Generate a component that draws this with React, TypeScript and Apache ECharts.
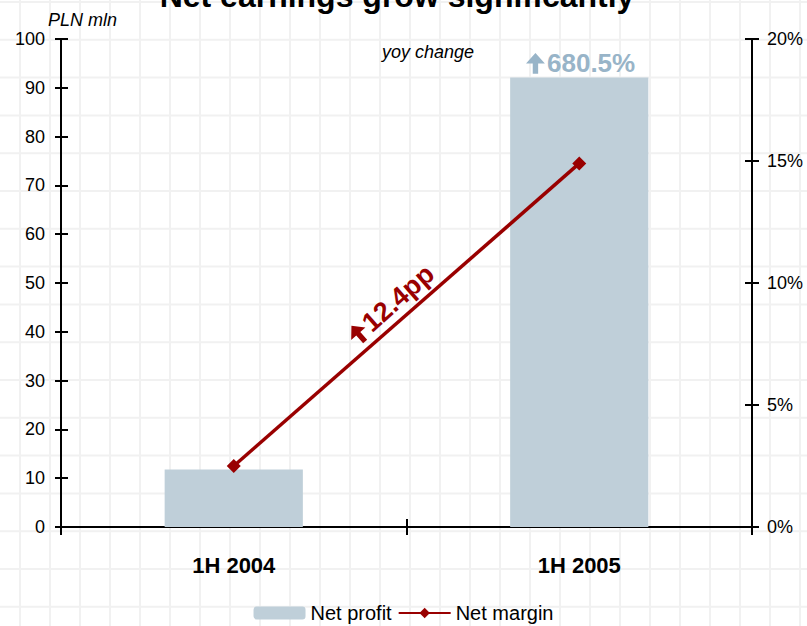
import React, { useEffect, useRef } from "react";
import * as echarts from "echarts";

const categories = ["1H 2004", "1H 2005"];
const netProfit = [11.8, 92.1];
const netMargin = [2.5, 14.9];
const profitGrowthLabel = "680.5%";
const marginChangeLabel = "12.4pp";
const leftMin = 0, leftMax = 100, leftInterval = 10;
const rightMin = 0, rightMax = 20, rightInterval = 5;

const W = 807, H = 626;
const FONT = "Liberation Sans";

echarts.graphic.registerShape(
  "upArrow",
  echarts.graphic.extendPath("M7 0 L14 8 L9 8 L9 16 L5 16 L5 8 L0 8 Z", {})
);

export default function App() {
  const ref = useRef<HTMLDivElement>(null);
  useEffect(() => {
    if (!ref.current) return;
    const chart = echarts.init(ref.current, null, { renderer: "svg" });
    const bg: any[] = [];
    for (let x = 20; x < W; x += 30) {
      bg.push({ type: "line", z: 0, silent: true, shape: { x1: x, y1: 0, x2: x, y2: H }, style: { stroke: "#f1f1f1", lineWidth: 2 } });
    }
    for (let y = 2; y < H; y += 37.8) {
      bg.push({ type: "line", z: 0, silent: true, shape: { x1: 0, y1: y, x2: W, y2: y }, style: { stroke: "#f1f1f1", lineWidth: 2 } });
    }
    const axisLine = { show: true, lineStyle: { color: "#000", width: 2 } };
    const tickStyle = { color: "#000", width: 2 };
    const option: any = {
      animation: false,
      backgroundColor: "#fff",
      textStyle: { fontFamily: FONT },
      grid: { left: 61, right: 55, top: 39, bottom: 99 },
      legend: {
        left: "center",
        top: 598,
        itemWidth: 52,
        itemHeight: 13,
        itemGap: 6,
        textStyle: { fontSize: 20, color: "#000", fontFamily: FONT },
        data: ["Net profit", "Net margin"],
      },
      xAxis: [
        {
          type: "category",
          data: categories,
          position: "bottom",
          axisLine,
          axisTick: { show: true, length: 8, lineStyle: tickStyle },
          axisLabel: { fontWeight: "bold", fontSize: 22, color: "#000", margin: 27, fontFamily: FONT },
          splitLine: { show: false },
        },
        {
          type: "category",
          data: categories,
          position: "bottom",
          offset: 0,
          axisLine: { show: false },
          axisTick: { show: true, inside: true, length: 8, lineStyle: tickStyle },
          axisLabel: { show: false },
          splitLine: { show: false },
        },
      ],
      yAxis: [
        {
          type: "value", min: leftMin, max: leftMax, interval: leftInterval, position: "left",
          axisLine, axisTick: { show: true, length: 6, lineStyle: tickStyle },
          axisLabel: { fontSize: 18, color: "#000", margin: 16, fontFamily: FONT },
          splitLine: { show: false },
        },
        {
          type: "value", min: rightMin, max: rightMax, interval: rightInterval, position: "right",
          axisLine, axisTick: { show: true, length: 7, lineStyle: tickStyle },
          axisLabel: { fontSize: 18, color: "#000", margin: 15, formatter: "{value}%", fontFamily: FONT },
          splitLine: { show: false },
        },
        {
          type: "value", min: leftMin, max: leftMax, interval: leftInterval, position: "left", offset: 0,
          axisLine: { show: false }, axisTick: { show: true, inside: true, length: 7, lineStyle: tickStyle },
          axisLabel: { show: false }, splitLine: { show: false },
        },
        {
          type: "value", min: rightMin, max: rightMax, interval: rightInterval, position: "right", offset: 0,
          axisLine: { show: false }, axisTick: { show: true, inside: true, length: 7, lineStyle: tickStyle },
          axisLabel: { show: false }, splitLine: { show: false },
        },
      ],
      series: [
        {
          name: "Net profit",
          type: "bar",
          xAxisIndex: 0,
          yAxisIndex: 0,
          barWidth: "40%",
          itemStyle: { color: "#bfcfd9" },
          data: netProfit,
          z: 2,
        },
        {
          name: "Net margin",
          type: "line",
          xAxisIndex: 0,
          yAxisIndex: 1,
          symbol: "diamond",
          symbolSize: 14,
          lineStyle: { color: "#990000", width: 3.5 },
          itemStyle: { color: "#990000" },
          data: netMargin,
          z: 3,
        },
      ],
      graphic: [
        ...bg,
        {
          type: "text", z: 100, x: 397, y: -20,
          style: { text: "Net earnings grow significantly", font: `bold 32px ${FONT}`, fill: "#000", textAlign: "center", textVerticalAlign: "top" },
        },
        {
          type: "text", z: 100, x: 48, y: 20,
          style: { text: "PLN mln", font: `italic 18px ${FONT}`, fill: "#000", textAlign: "left", textVerticalAlign: "middle" },
        },
        {
          type: "text", z: 100, x: 428, y: 52,
          style: { text: "yoy change", font: `italic 18px ${FONT}`, fill: "#000", textAlign: "center", textVerticalAlign: "middle" },
        },
        {
          type: "group", z: 100, x: 526, y: 63,
          children: [
            { type: "upArrow", z: 100, x: 0, y: -10, scaleX: 1.35, scaleY: 1.3, style: { fill: "#98b4c8" } },
            {
              type: "text", z: 100, x: 21, y: 0,
              style: { text: profitGrowthLabel, font: `bold 26px ${FONT}`, fill: "#98b4c8", textAlign: "left", textVerticalAlign: "middle" },
            },
          ],
        },
        {
          type: "group", z: 100, x: 396, y: 300, rotation: (41.3 * Math.PI) / 180,
          children: [
            { type: "upArrow", z: 100, x: -60, y: -10, scaleX: 1.35, scaleY: 1.3, style: { fill: "#990000" } },
            {
              type: "text", z: 100, x: -40, y: 0,
              style: { text: marginChangeLabel, font: `bold 27px ${FONT}`, fill: "#990000", textAlign: "left", textVerticalAlign: "middle" },
            },
          ],
        },
      ],
    };
    chart.setOption(option);
    return () => chart.dispose();
  }, []);
  return <div ref={ref} style={{ position: "fixed", left: 0, top: 0, width: W, height: H }} />;
}
